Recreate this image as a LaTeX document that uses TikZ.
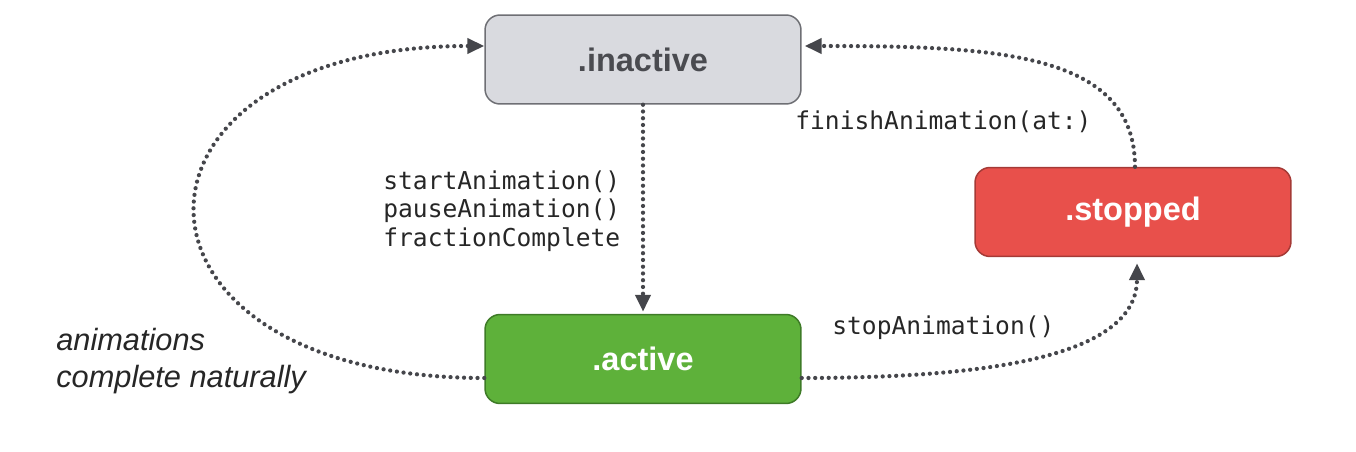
\documentclass[tikz,border=0pt]{standalone}
\usepackage{fontspec}
\setsansfont{Liberation Sans}
\setmonofont{DejaVu Sans Mono}
\usepackage{tikz}
\usetikzlibrary{arrows.meta}

\definecolor{idleFill}{HTML}{D9DADF}
\definecolor{idleEdge}{HTML}{6E6F74}
\definecolor{idleText}{HTML}{4A4B50}
\definecolor{runFill}{HTML}{5EB13A}
\definecolor{runEdge}{HTML}{3E7B27}
\definecolor{haltFill}{HTML}{E8504B}
\definecolor{haltEdge}{HTML}{A53A36}
\definecolor{lineGray}{HTML}{45464B}
\definecolor{callText}{HTML}{262626}

\begin{document}
\begin{tikzpicture}[
  x=0.02cm, y=-0.02cm,
  state/.style={rectangle, rounded corners=0.3cm, draw, line width=0.03cm, minimum width=6.32cm, minimum height=1.78cm, font=\sffamily\bfseries\fontsize{18.5}{22}\selectfont},
  idle/.style={state, fill=idleFill, draw=idleEdge, text=idleText},
  run/.style={state, fill=runFill, draw=runEdge, text=white},
  halt/.style={state, fill=haltFill, draw=haltEdge, text=white},
  call/.style={font=\ttfamily\fontsize{14}{16.2}\selectfont, text=callText, inner sep=0pt, align=left},
  note/.style={font=\sffamily\itshape\fontsize{17.5}{21}\selectfont, text=callText, inner sep=0pt, align=left},
  flow/.style={draw=lineGray, line width=0.085cm, line cap=round, dash pattern=on 0pt off 0.135cm},
  >={Triangle[length=0.34cm, width=0.3cm]}
]
\useasboundingbox (0,0) rectangle (1356,452);

\node[idle] (inactive) at (643,59.5) {.inactive};
\node[run] (active) at (643,359) {.active};
\node[halt] (stopped) at (1133,212) {.stopped};

\node[call, anchor=west] (calls) at (383,211) {startAnimation()\\pauseAnimation()\\fractionComplete};
\node[call, anchor=west] (finish) at (795,122) {finishAnimation(at:)};
\node[call, anchor=west] (stop) at (832,328) {stopAnimation()};
\node[note, anchor=west] (natural) at (56,361) {animations\\complete naturally};

\draw[flow, ->] (inactive.south) -- ([yshift=0.04cm]active.north);
\draw[flow, ->] ([yshift=-0.38cm]active.west) .. controls +(-385,0) and +(-385,0) .. ([yshift=0.27cm]inactive.west);
\draw[flow, ->] ([yshift=-0.38cm]active.east) .. controls +(200,0) and +(0,90) .. ([xshift=0.08cm, yshift=-0.12cm]stopped.south);
\draw[flow, ->] ([xshift=0.04cm]stopped.north) .. controls +(0,-115) and +(190,0) .. ([xshift=0.06cm, yshift=0.27cm]inactive.east);
\end{tikzpicture}
\end{document}
